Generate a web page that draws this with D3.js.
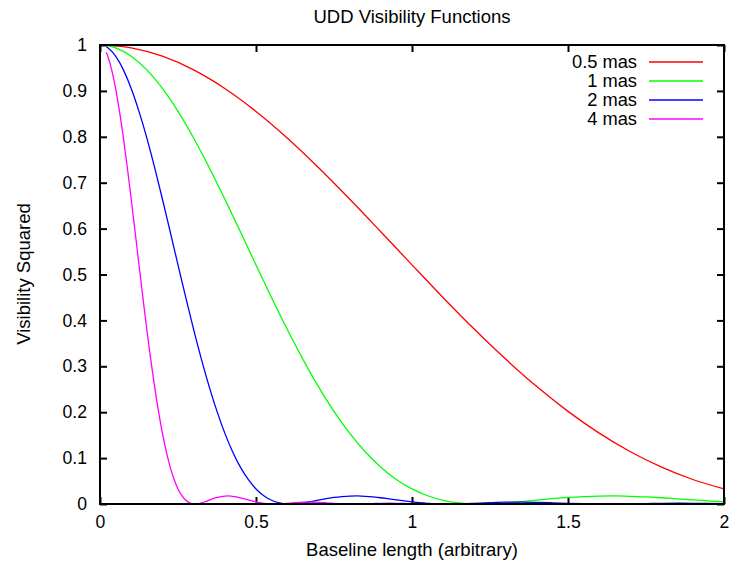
<!DOCTYPE html>
<html>
<head>
<meta charset="utf-8">
<script src="https://cdn.jsdelivr.net/npm/d3@7"></script>
<style>
body { margin: 0; background: #fff; }
text { font-family: "Liberation Sans", Arial, Helvetica, sans-serif; fill: #000; }
</style>
</head>
<body>
<div id="chart"></div>
<script>
// values (visibility squared against baseline)
var x05 = [0.02, 0.1, 0.2, 0.3, 0.4, 0.5, 0.6, 0.7, 0.8, 0.9, 1.0, 1.1, 1.2, 1.3, 1.4, 1.5, 1.6, 1.7, 1.8, 1.9, 2.0];
var v05 = [0.9998, 0.9938, 0.9756, 0.9458, 0.9053, 0.8553, 0.7975, 0.7332, 0.6645, 0.5931, 0.5209, 0.4495, 0.3806, 0.3157, 0.2558, 0.2018, 0.1544, 0.1139, 0.0803, 0.0534, 0.0328];

var x1 = [0.02, 0.05, 0.1, 0.15, 0.2, 0.25, 0.3, 0.35, 0.4, 0.45, 0.5, 0.55, 0.6, 0.65, 0.7, 0.75, 0.8, 0.85, 0.9, 0.95,
	1.0, 1.05, 1.1, 1.15, 1.2, 1.25, 1.3, 1.35, 1.4, 1.45, 1.5, 1.55, 1.6, 1.65, 1.7, 1.75, 1.8, 1.85, 1.9, 1.95, 2.0];
var v1 = [0.9990, 0.9938, 0.9756, 0.9458, 0.9053, 0.8553, 0.7975, 0.7332, 0.6645, 0.5931, 0.5209, 0.4495, 0.3806, 0.3157, 0.2558, 0.2018, 0.1544, 0.1139, 0.0803, 0.0534,
	0.0328, 0.0180, 0.0081, 0.0025, 0.0002, 0.0004, 0.0022, 0.0051, 0.0085, 0.0116, 0.0143, 0.0162, 0.0173, 0.0175, 0.0168, 0.0154, 0.0136, 0.0113, 0.0090, 0.0067, 0.0046];

var x2 = [0.02, 0.025, 0.05, 0.075, 0.1, 0.125, 0.15, 0.175, 0.2, 0.225, 0.25, 0.275, 0.3, 0.325, 0.35, 0.375, 0.4, 0.425, 0.45, 0.475,
	0.5, 0.525, 0.55, 0.575, 0.6, 0.625, 0.65, 0.675, 0.7, 0.725, 0.75, 0.775, 0.8, 0.825, 0.85, 0.875, 0.9, 0.925, 0.95, 0.975,
	1.0, 1.025, 1.05, 1.075, 1.1, 1.125, 1.15, 1.175, 1.2, 1.25, 1.3, 1.35, 1.4, 1.45, 1.5, 1.55, 1.6, 1.65, 1.7, 1.75, 1.8, 1.85, 1.9, 1.95, 2.0];
var v2 = [0.9961, 0.9938, 0.9756, 0.9458, 0.9053, 0.8553, 0.7975, 0.7332, 0.6645, 0.5931, 0.5209, 0.4495, 0.3806, 0.3157, 0.2558, 0.2018, 0.1544, 0.1139, 0.0803, 0.0534,
	0.0328, 0.0180, 0.0081, 0.0025, 0.0002, 0.0004, 0.0022, 0.0051, 0.0085, 0.0116, 0.0143, 0.0162, 0.0173, 0.0175, 0.0168, 0.0154, 0.0136, 0.0113, 0.0090, 0.0067,
	0.0046, 0.0028, 0.0015, 0.0005, 0.0001, 0.0000, 0.0003, 0.0008, 0.0015, 0.0029, 0.0039, 0.0041, 0.0036, 0.0026, 0.0014, 0.0005, 0.0000, 0.0001, 0.0005, 0.0010, 0.0015, 0.0016, 0.0015, 0.0011, 0.0006];

var x4 = [0.02, 0.025, 0.0375, 0.05, 0.0625, 0.075, 0.0875, 0.1, 0.1125, 0.125, 0.1375, 0.15, 0.1625, 0.175, 0.1875, 0.2, 0.2125, 0.225, 0.2375,
	0.25, 0.2625, 0.275, 0.2875, 0.3, 0.3125, 0.325, 0.3375, 0.35, 0.3625, 0.375, 0.3875, 0.4, 0.4125, 0.425, 0.4375, 0.45, 0.4625, 0.475, 0.4875,
	0.5, 0.5125, 0.525, 0.5375, 0.55, 0.5625, 0.575, 0.5875, 0.6, 0.625, 0.65, 0.675, 0.7, 0.725, 0.75, 0.775, 0.8, 0.825, 0.85, 0.875, 0.9, 0.925, 0.95, 0.975,
	1.0, 1.06, 1.175, 1.31, 1.425, 1.56, 1.675, 1.8125, 1.925, 2.0];
var v4 = [0.9843, 0.9756, 0.9458, 0.9053, 0.8553, 0.7975, 0.7332, 0.6645, 0.5931, 0.5209, 0.4495, 0.3806, 0.3157, 0.2558, 0.2018, 0.1544, 0.1139, 0.0803, 0.0534,
	0.0328, 0.0180, 0.0081, 0.0025, 0.0002, 0.0004, 0.0022, 0.0051, 0.0085, 0.0116, 0.0143, 0.0162, 0.0173, 0.0175, 0.0168, 0.0154, 0.0136, 0.0113, 0.0090, 0.0067,
	0.0046, 0.0028, 0.0015, 0.0005, 0.0001, 0.0000, 0.0003, 0.0008, 0.0015, 0.0029, 0.0039, 0.0041, 0.0036, 0.0026, 0.0014, 0.0005, 0.0000, 0.0001, 0.0005, 0.0010, 0.0015, 0.0016, 0.0015, 0.0011,
	0.0006, 0.0000, 0.0008, 0.0000, 0.0004, 0.0000, 0.0003, 0.0000, 0.0002, 0.0001];

var names = ["0.5 mas", "1 mas", "2 mas", "4 mas"];
var colors = ["#ff0000", "#00ff00", "#0000ff", "#ff00ff"];
var xTicks = [0, 0.5, 1, 1.5, 2];
var yTicks = [0, 0.1, 0.2, 0.3, 0.4, 0.5, 0.6, 0.7, 0.8, 0.9, 1];

var w = 730, h = 565;
var padL = 100, padR = 724, padT = 45, padB = 504;

var svg = d3.select("#chart").append("svg")
	.attr("width", w)
	.attr("height", h);

var x = d3.scaleLinear().domain([0, 2]).range([padL, padR]);
var y = d3.scaleLinear().domain([0, 1]).range([padB, padT]);

function fmt(d){ return String(d); }

// axes: gnuplot style, inward ticks on all four sides
svg.append("g")
	.attr("transform", "translate(0," + padB + ")")
	.call(d3.axisBottom(x).tickValues(xTicks).tickFormat(fmt).tickSize(-7).tickSizeOuter(0).tickPadding(12));
svg.append("g")
	.attr("transform", "translate(" + padL + ",0)")
	.call(d3.axisLeft(y).tickValues(yTicks).tickFormat(fmt).tickSize(-7).tickSizeOuter(0).tickPadding(13));
svg.append("g")
	.attr("transform", "translate(0," + padT + ")")
	.call(d3.axisTop(x).tickValues(xTicks).tickFormat("").tickSize(-7).tickSizeOuter(0));
svg.append("g")
	.attr("transform", "translate(" + padR + ",0)")
	.call(d3.axisRight(y).tickValues(yTicks).tickFormat("").tickSize(-7).tickSizeOuter(0));

svg.selectAll(".domain").remove();
svg.selectAll(".tick line").attr("stroke", "#000").attr("stroke-width", 2);
svg.selectAll(".tick text")
	.style("font-size", "17.6px")
	.style("font-family", "'Liberation Sans', Arial, Helvetica, sans-serif")
	.attr("fill", "#000");

var series = [[x05, v05], [x1, v1], [x2, v2], [x4, v4]];

var line = d3.line()
	.x(function(d){ return x(d[0]); })
	.y(function(d){ return y(d[1]); })
	.curve(d3.curveMonotoneX);

var k;
for (k = 0; k < series.length; k++){
	var pts = series[k][0].map(function(xv, i){ return [xv, series[k][1][i]]; });
	svg.append("path")
		.datum(pts)
		.attr("fill", "none")
		.attr("stroke", colors[k])
		.attr("stroke-width", 1.3)
		.attr("d", line);
}

// border
svg.append("rect")
	.attr("x", padL)
	.attr("y", padT)
	.attr("width", padR - padL)
	.attr("height", padB - padT)
	.attr("fill", "none")
	.attr("stroke", "#000")
	.attr("stroke-width", 2);

// legend
var lg = svg.selectAll(".key")
	.data(names)
	.enter().append("g")
	.attr("class", "key")
	.attr("transform", function(d, i){ return "translate(0," + (62 + i*19) + ")"; });
lg.append("text")
	.attr("x", 637)
	.attr("dy", "0.35em")
	.attr("text-anchor", "end")
	.style("font-size", "18.3px")
	.text(String);
lg.append("line")
	.attr("x1", 649)
	.attr("x2", 703)
	.attr("stroke", function(d, i){ return colors[i]; })
	.attr("stroke-width", 1.3);

svg.append("text")
	.attr("x", 412)
	.attr("y", 23)
	.attr("text-anchor", "middle")
	.style("font-size", "18.5px")
	.text("UDD Visibility Functions");

svg.append("text")
	.attr("x", 412)
	.attr("y", 556)
	.attr("text-anchor", "middle")
	.style("font-size", "18.5px")
	.text("Baseline length (arbitrary)");

svg.append("text")
	.attr("transform", "translate(30,274) rotate(-90)")
	.attr("text-anchor", "middle")
	.style("font-size", "18.5px")
	.text("Visibility Squared");
</script>
</body>
</html>
